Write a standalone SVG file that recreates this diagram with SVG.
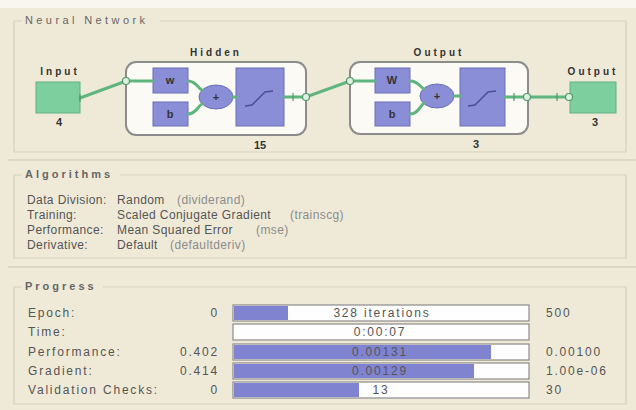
<svg xmlns="http://www.w3.org/2000/svg" width="636" height="410" viewBox="0 0 636 410">
  <defs>
    <style>
      .txt { font-family: "Liberation Sans", Arial, sans-serif; font-size: 12px; fill: #555; letter-spacing: 0.4px; }
      .pg { font-family: "Liberation Sans", Arial, sans-serif; font-size: 12px; fill: #555; letter-spacing: 1.8px; }
      .dim { fill: #8c8c8c; }
      .mid { text-anchor: middle; }
      .end { text-anchor: end; }
      .hdr { font-family: "Liberation Sans", Arial, sans-serif; font-size: 11px; fill: #666; letter-spacing: 3.4px; }
      .hdrb { font-family: "Liberation Sans", Arial, sans-serif; font-size: 11px; font-weight: bold; fill: #666; letter-spacing: 3px; }
      .lbl { font-family: "Liberation Sans", Arial, sans-serif; font-size: 10px; font-weight: bold; fill: #333; text-anchor: middle; letter-spacing: 3px; }
      .sym { font-family: "Liberation Sans", Arial, sans-serif; font-size: 11px; font-weight: bold; fill: #333; text-anchor: middle; }
      .grp { fill: none; stroke: #d8d1ba; stroke-width: 1.2; }
      .sep { stroke: #d9d2bc; stroke-width: 1.5; }
      .io { fill: #7dcf9e; stroke: #62b182; stroke-width: 1; }
      .layer { fill: #fbfaf5; stroke: #8c8c8c; stroke-width: 2; }
      .blk { fill: #8a8ed6; stroke: #6a6eb6; stroke-width: 1; }
      .wire { fill: none; stroke: #5fb57e; stroke-width: 3; stroke-linecap: round; }
      .jn { fill: #dff0e2; stroke: #4d9966; stroke-width: 1.2; }
      .tick { stroke: #4d9966; stroke-width: 1.2; }
      .tf { fill: none; stroke: #4a4f92; stroke-width: 1.5; }
      .bar { fill: #fefefe; stroke: #8a8a8a; stroke-width: 1.2; }
      .fill { fill: #8084d0; }
    </style>
  </defs>

  <!-- window background -->
  <rect x="0" y="0" width="636" height="410" fill="#efead8"/>
  <rect x="0" y="0" width="636" height="8" fill="#f8f6ee"/>

  <!-- panel separators -->
  <line class="sep" x1="8" y1="160" x2="636" y2="160"/>
  <line class="sep" x1="8" y1="267" x2="636" y2="267"/>

  <!-- group box outlines with titles -->
  <g id="panel-network">
    <path class="grp" d="M160 21 H626 V152 H14 V21 H22"/>
    <text class="hdr" x="25" y="24">Neural Network</text>
  </g>
  <g id="panel-algorithms">
    <path class="grp" d="M120 175 H626 V258 H14 V175 H22"/>
    <text class="hdrb" x="25" y="178">Algorithms</text>
  </g>
  <g id="panel-progress">
    <path class="grp" d="M103 287 H626 V404 H14 V287 H22"/>
    <text class="hdrb" x="25" y="290">Progress</text>
  </g>

  <!-- input node -->
  <g id="input">
    <text class="lbl" x="60" y="75">Input</text>
    <rect class="io" x="36" y="82" width="44" height="31"/>
    <text class="sym" x="59" y="126">4</text>
  </g>

  <!-- hidden layer -->
  <g id="hidden">
    <text class="lbl" x="216" y="56">Hidden</text>
    <rect class="layer" x="126" y="62" width="180" height="73" rx="10"/>
    <rect class="blk" x="153" y="68" width="35" height="25"/>
    <text class="sym" x="170" y="84">w</text>
    <rect class="blk" x="153" y="102" width="35" height="24"/>
    <text class="sym" x="170" y="118">b</text>
    <ellipse class="blk" cx="216" cy="97" rx="17" ry="12"/>
    <text class="sym" x="216" y="101">+</text>
    <rect class="blk" x="236" y="68" width="48" height="58"/>
    <path class="tf" d="M245 106 L252 105 L265 92 L273 91"/>
    <text class="sym" x="260" y="149">15</text>
  </g>

  <!-- output layer -->
  <g id="output-layer">
    <text class="lbl" x="439" y="56">Output</text>
    <rect class="layer" x="350" y="62" width="178" height="72" rx="10"/>
    <rect class="blk" x="375" y="68" width="35" height="25"/>
    <text class="sym" x="392" y="84">W</text>
    <rect class="blk" x="375" y="102" width="35" height="24"/>
    <text class="sym" x="392" y="118">b</text>
    <ellipse class="blk" cx="437" cy="96" rx="17" ry="12"/>
    <text class="sym" x="437" y="100">+</text>
    <rect class="blk" x="460" y="68" width="45" height="58"/>
    <path class="tf" d="M468 106 L475 105 L488 92 L496 91"/>
    <text class="sym" x="476" y="148">3</text>
  </g>

  <!-- output node -->
  <g id="output">
    <text class="lbl" x="593" y="75">Output</text>
    <rect class="io" x="570" y="82" width="46" height="31"/>
    <text class="sym" x="595" y="126">3</text>
  </g>

  <!-- connectors -->
  <g id="connectors">
    <path class="wire" d="M80 98 L126 81 L153 81"/>
    <path class="wire" d="M188 81 C196 81 198 88 202 90"/>
    <path class="wire" d="M188 114 C196 114 198 106 202 104"/>
    <path class="wire" d="M233 97 L236 97"/>
    <path class="wire" d="M284 97 L306 97 L350 81 L375 81"/>
    <path class="wire" d="M410 81 C418 81 420 87 424 89"/>
    <path class="wire" d="M410 114 C418 114 420 106 424 103"/>
    <path class="wire" d="M454 96 L460 96"/>
    <path class="wire" d="M505 97 L570 97"/>
    <line class="tick" x1="80" y1="94" x2="80" y2="102"/>
    <circle class="jn" cx="126" cy="81" r="3.5"/>
    <line class="tick" x1="293" y1="93" x2="293" y2="101"/>
    <circle class="jn" cx="306" cy="97" r="3.5"/>
    <circle class="jn" cx="350" cy="81" r="3.5"/>
    <line class="tick" x1="514" y1="93" x2="514" y2="101"/>
    <circle class="jn" cx="527" cy="97" r="3.5"/>
    <line class="tick" x1="557" y1="93" x2="557" y2="101"/>
    <circle class="jn" cx="569" cy="97" r="3.5"/>
  </g>

  <!-- algorithms table -->
  <g id="algorithms">
    <text class="txt" x="27" y="204">Data Division:</text>
    <text class="txt" x="117" y="204">Random</text>
    <text class="txt dim" x="177" y="204">(dividerand)</text>
    <text class="txt" x="27" y="219">Training:</text>
    <text class="txt" x="117" y="219">Scaled Conjugate Gradient</text>
    <text class="txt dim" x="290" y="219">(trainscg)</text>
    <text class="txt" x="27" y="234">Performance:</text>
    <text class="txt" x="117" y="234">Mean Squared Error</text>
    <text class="txt dim" x="256" y="234">(mse)</text>
    <text class="txt" x="27" y="249">Derivative:</text>
    <text class="txt" x="117" y="249">Default</text>
    <text class="txt dim" x="170" y="249">(defaultderiv)</text>
  </g>

  <!-- progress table -->
  <g id="progress">
    <text class="pg" x="28" y="317">Epoch:</text>
    <text class="pg end" x="219" y="317">0</text>
    <rect class="bar" x="233" y="305" width="296" height="16"/>
    <rect class="fill" x="234" y="306" width="54" height="14"/>
    <text class="pg mid" x="382" y="317">328 iterations</text>
    <text class="pg" x="546" y="317">500</text>

    <text class="pg" x="28" y="336">Time:</text>
    <rect class="bar" x="233" y="324" width="296" height="16"/>
    <text class="pg mid" x="380" y="336">0:00:07</text>

    <text class="pg" x="28" y="356">Performance:</text>
    <text class="pg end" x="219" y="356">0.402</text>
    <rect class="bar" x="233" y="344" width="296" height="16"/>
    <rect class="fill" x="234" y="345" width="257" height="14"/>
    <text class="pg mid" x="380" y="356">0.00131</text>
    <text class="pg" x="546" y="356">0.00100</text>

    <text class="pg" x="28" y="375">Gradient:</text>
    <text class="pg end" x="219" y="375">0.414</text>
    <rect class="bar" x="233" y="363" width="296" height="16"/>
    <rect class="fill" x="234" y="364" width="240" height="14"/>
    <text class="pg mid" x="380" y="375">0.00129</text>
    <text class="pg" x="546" y="375">1.00e-06</text>

    <text class="pg" x="28" y="394">Validation Checks:</text>
    <text class="pg end" x="219" y="394">0</text>
    <rect class="bar" x="233" y="382" width="296" height="16"/>
    <rect class="fill" x="234" y="383" width="125" height="14"/>
    <text class="pg mid" x="381" y="394">13</text>
    <text class="pg" x="546" y="394">30</text>
  </g>
</svg>
